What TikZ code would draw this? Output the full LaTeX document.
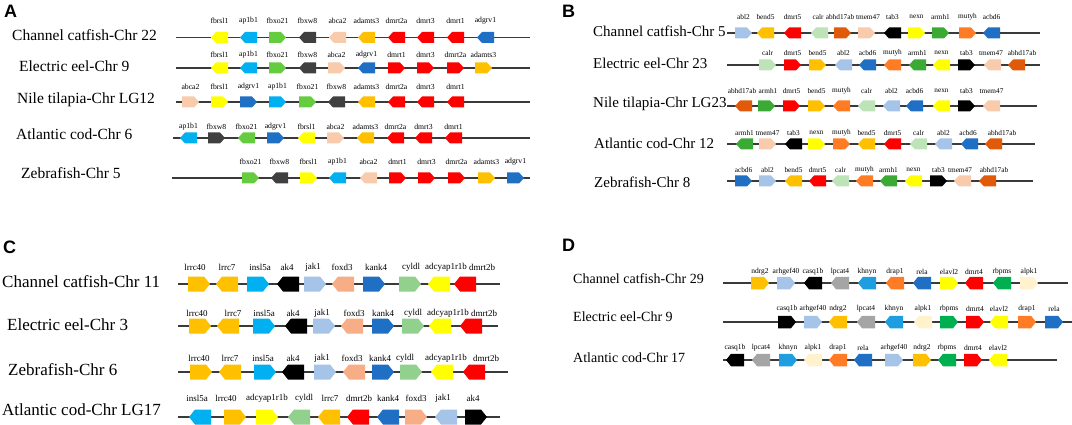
\documentclass[tikz,border=0pt]{standalone}
\usepackage{fontspec}
\setmainfont{Liberation Serif}
\newfontfamily\lsans{Liberation Sans}
\definecolor{cYel}{HTML}{FFFF00}
\definecolor{cCyan}{HTML}{00B0F0}
\definecolor{cLGrn}{HTML}{66CC3F}
\definecolor{cDGray}{HTML}{404040}
\definecolor{cPeach}{HTML}{F8CBAD}
\definecolor{cGold}{HTML}{FFC000}
\definecolor{cRed}{HTML}{FF0000}
\definecolor{cBlue}{HTML}{1F6FC4}
\definecolor{cLBlue}{HTML}{A6C4E8}
\definecolor{cMint}{HTML}{BEE3B8}
\definecolor{cCyl}{HTML}{92D08E}
\definecolor{cDOr}{HTML}{E05A0A}
\definecolor{cGrn}{HTML}{3AAA35}
\definecolor{cOr}{HTML}{FF7B24}
\definecolor{cBlk}{HTML}{000000}
\definecolor{cSal}{HTML}{F7AD85}
\definecolor{cGray}{HTML}{A5A5A5}
\definecolor{cKh}{HTML}{1E9EE0}
\definecolor{cRb}{HTML}{00B050}
\definecolor{cCream}{HTML}{FFF2CC}
\definecolor{cLine}{HTML}{3A3A3A}
\tikzset{
  chrline/.style={draw=cLine,line width=1.2pt},
  genelab/.style={inner sep=0pt,font=\gfs},
  rowlab/.style={anchor=west,inner sep=0pt},
  panlab/.style={anchor=west,inner sep=0pt,font=\lsans\bfseries\fontsize{18}{18}\selectfont},
}
\newcommand\gw{17}\newcommand\gh{11}\newcommand\gp{5}
\newcommand\gfs{\fontsize{7.7}{8}\selectfont}
\newcommand\ry{0}\newcommand\ly{0}
\newcommand\setrow[2]{\renewcommand\ry{#1}\renewcommand\ly{#2}}
\newcommand\gn[5][]{%
 \if#3R
  \fill[#4] (#2,\ry-\gh/2) -- (#2+\gw-\gp,\ry-\gh/2) -- (#2+\gw,\ry) -- (#2+\gw-\gp,\ry+\gh/2) -- (#2,\ry+\gh/2) -- cycle;
 \else
  \fill[#4] (#2+\gw,\ry-\gh/2) -- (#2+\gp,\ry-\gh/2) -- (#2,\ry) -- (#2+\gp,\ry+\gh/2) -- (#2+\gw,\ry+\gh/2) -- cycle;
 \fi
 \ifx\relax#1\relax
  \node[genelab] at (#2+\gw/2,\ly) {#5};
 \else
  \node[genelab] at (#1,\ly) {#5};
 \fi
}
\newcommand\chr[2]{\draw[chrline] (#1,\ry) -- (#2,\ry);}
\begin{document}
\begin{tikzpicture}[x=1pt,y=-1pt]
\fill[white] (0,0) rectangle (1072,425);
\useasboundingbox (0,0) rectangle (1072,425);
% ---------------- Panel A ----------------
\node[panlab] (pA) at (4,11) {A};
\begin{scope}[font=\fontsize{15.5}{15.5}\selectfont]
\node[rowlab] (a1) at (12,35) {Channel catfish-Chr 22};
\node[rowlab] (a2) at (19,66) {Electric eel-Chr 9};
\node[rowlab] (a3) at (17,100) {Nile tilapia-Chr LG12};
\node[rowlab] (a4) at (16,134) {Atlantic cod-Chr 6};
\node[rowlab] (a5) at (21,173) {Zebrafish-Chr 5};
\end{scope}
\setrow{37.5}{21}\chr{176}{530}
\gn{211}{L}{cYel}{fbrsl1}\gn{240}{L}{cCyan}{ap1b1}\gn{269}{R}{cLGrn}{fbxo21}\gn{299}{L}{cDGray}{fbxw8}
\gn{329}{L}{cPeach}{abca2}\gn{358}{L}{cGold}{adamts3}\gn{388}{L}{cRed}{dmrt2a}\gn{417}{L}{cRed}{dmrt3}
\gn{447}{L}{cRed}{dmrt1}\gn{477}{L}{cBlue}{adgrv1}
\setrow{68}{55}\chr{176}{530}
\gn{211}{L}{cYel}{fbrsl1}\gn{240}{L}{cCyan}{ap1b1}\gn{269}{R}{cLGrn}{fbxo21}\gn{299}{L}{cDGray}{fbxw8}
\gn{328}{R}{cPeach}{abca2}\gn{358}{L}{cBlue}{adgrv1}\gn{388}{R}{cRed}{dmrt1}\gn{417}{R}{cRed}{dmrt3}
\gn{447}{R}{cRed}{dmrt2a}\gn{475}{R}{cGold}{adamts3}
\setrow{102}{87}\chr{176}{530}
\gn{182}{R}{cPeach}{abca2}\gn{211}{R}{cYel}{fbrsl1}\gn{240}{R}{cBlue}{adgrv1}\gn{269}{R}{cCyan}{ap1b1}
\gn{299}{R}{cLGrn}{fbxo21}\gn{328}{L}{cDGray}{fbxw8}\gn{358}{L}{cGold}{adamts3}\gn{388}{L}{cRed}{dmrt2a}
\gn{417}{L}{cRed}{dmrt3}\gn{447}{L}{cRed}{dmrt1}
\setrow{138}{127}\chr{173}{530}
\gn{180}{L}{cCyan}{ap1b1}\gn{208}{R}{cDGray}{fbxw8}\gn{238}{L}{cLGrn}{fbxo21}\gn{267}{R}{cBlue}{adgrv1}
\gn{298}{L}{cYel}{fbrsl1}\gn{327}{R}{cPeach}{abca2}\gn{357}{L}{cGold}{adamts3}\gn{387}{L}{cRed}{dmrt2a}
\gn{415}{L}{cRed}{dmrt3}\gn{445}{L}{cRed}{dmrt1}
\setrow{178}{162}\chr{172}{530}
\gn{242}{R}{cLGrn}{fbxo21}\gn{271}{L}{cDGray}{fbxw8}\gn{300}{R}{cYel}{fbrsl1}\gn{329}{L}{cCyan}{ap1b1}
\gn{360}{L}{cPeach}{abca2}\gn{389}{R}{cRed}{dmrt1}\gn{418}{R}{cRed}{dmrt3}\gn{448}{R}{cRed}{dmrt2a}
\gn{478}{R}{cGold}{adamts3}\gn{507}{R}{cBlue}{adgrv1}
% ---------------- Panel B ----------------
\node[panlab] (pB) at (562,11) {B};
\renewcommand\gfs{\fontsize{7.3}{8}\selectfont}
\begin{scope}[font=\fontsize{15}{15}\selectfont]
\node[rowlab] (b1) at (593,31) {Channel catfish-Chr 5};
\node[rowlab] (b2) at (593,63) {Electric eel-Chr 23};
\node[rowlab] (b3) at (593,104) {Nile tilapia-Chr LG23};
\node[rowlab] (b4) at (594,143) {Atlantic cod-Chr 12};
\node[rowlab] (b5) at (594,182) {Zebrafish-Chr 8};
\end{scope}
\setrow{33}{17}\chr{727}{1040}
\gn{735}{R}{cLBlue}{abl2}\gn{757}{L}{cGold}{bend5}\gn{784}{L}{cRed}{dmrt5}\gn[818]{811}{L}{cMint}{calr}
\gn[840]{834}{R}{cDOr}{abhd17ab}\gn[868]{858}{R}{cPeach}{tmem47}\gn{884}{L}{cBlk}{tab3}\gn{908}{R}{cYel}{nexn}
\gn{932}{R}{cGrn}{armh1}\gn{959}{R}{cOr}{mutyh}\gn{983}{L}{cBlue}{acbd6}
\setrow{65}{53}\chr{727}{1040}
\gn{759}{R}{cMint}{calr}\gn{784}{R}{cRed}{dmrt5}\gn{809}{R}{cGold}{bend5}\gn{835}{L}{cLBlue}{abl2}
\gn{859}{L}{cBlue}{acbd6}\gn{884}{L}{cOr}{mutyh}\gn{909}{L}{cGrn}{armh1}\gn{933}{L}{cYel}{nexn}
\gn{958}{R}{cBlk}{tab3}\gn[991]{984}{L}{cPeach}{tmem47}\gn[1022]{1008}{L}{cDOr}{abhd17ab}
\setrow{106}{91}\chr{727}{1037}
\gn[742]{735}{L}{cDOr}{abhd17ab}\gn[768]{758}{R}{cGrn}{armh1}\gn{783}{R}{cRed}{dmrt5}\gn{808}{R}{cGold}{bend5}
\gn{833}{L}{cOr}{mutyh}\gn{858}{L}{cMint}{calr}\gn{883}{L}{cLBlue}{abl2}\gn{906}{L}{cBlue}{acbd6}
\gn{933}{L}{cYel}{nexn}\gn{958}{R}{cBlk}{tab3}\gn{983}{L}{cPeach}{tmem47}
\setrow{144}{133}\chr{727}{1035}
\gn{736}{L}{cGrn}{armh1}\gn{759}{R}{cPeach}{tmem47}\gn{785}{L}{cBlk}{tab3}\gn{808}{R}{cYel}{nexn}
\gn{833}{R}{cOr}{mutyh}\gn{858}{L}{cGold}{bend5}\gn{884}{L}{cRed}{dmrt5}\gn{910}{L}{cMint}{calr}
\gn{935}{L}{cLBlue}{abl2}\gn[968]{961}{L}{cBlue}{acbd6}\gn[1002]{985}{L}{cDOr}{abhd17ab}
\setrow{181}{170}\chr{727}{1033}
\gn{735}{R}{cBlue}{acbd6}\gn{759}{R}{cLBlue}{abl2}\gn{785}{L}{cGold}{bend5}\gn{809}{L}{cRed}{dmrt5}
\gn{832}{L}{cMint}{calr}\gn{856}{L}{cOr}{mutyh}\gn{880}{L}{cGrn}{armh1}\gn{905}{L}{cYel}{nexn}
\gn{930}{R}{cBlk}{tab3}\gn[960]{954}{L}{cPeach}{tmem47}\gn[994]{979}{L}{cDOr}{abhd17ab}
% ---------------- Panel C ----------------
\node[panlab] (pC) at (3,247) {C};
\begin{scope}[font=\fontsize{17}{17}\selectfont]
\node[rowlab] (c1) at (2,282) {Channel catfish-Chr 11};
\node[rowlab] (c2) at (7,325) {Electric eel-Chr 3};
\node[rowlab] (c3) at (8,370) {Zebrafish-Chr 6};
\node[rowlab] (c4) at (2,410) {Atlantic cod-Chr LG17};
\end{scope}
\renewcommand\gw{22}\renewcommand\gh{15}\renewcommand\gp{6}
\renewcommand\gfs{\fontsize{9}{9}\selectfont}
\setrow{284}{267}\chr{178}{500}
\gn[195]{188}{R}{cGold}{lrrc40}\gn[227]{216}{L}{cGold}{lrrc7}\gn[260]{247}{R}{cCyan}{insl5a}\gn[287]{277}{L}{cBlk}{ak4}
\gn[313]{304}{R}{cLBlue}{jak1}\gn[342]{332}{L}{cSal}{foxd3}\gn[376]{363}{R}{cBlue}{kank4}\gn[411]{399}{R}{cCyl}{cyldl}
\gn[446]{428}{L}{cYel}{adcyap1r1b}\gn[482]{454}{L}{cRed}{dmrt2b}
\setrow{326}{313}\chr{178}{498}
\gn[197]{189}{R}{cGold}{lrrc40}\gn[233]{217}{L}{cGold}{lrrc7}\gn[264]{253}{R}{cCyan}{insl5a}\gn[293]{285}{L}{cBlk}{ak4}
\gn[322]{313}{R}{cLBlue}{jak1}\gn[354]{341}{L}{cSal}{foxd3}\gn[383]{372}{R}{cBlue}{kank4}\gn[413]{402}{R}{cCyl}{cyldl}
\gn[448]{429}{L}{cYel}{adcyap1r1b}\gn[484]{460}{L}{cRed}{dmrt2b}
\setrow{372}{358}\chr{178}{508}
\gn[199]{190}{R}{cGold}{lrrc40}\gn[230]{219}{L}{cGold}{lrrc7}\gn[263]{254}{R}{cCyan}{insl5a}\gn[293]{282}{L}{cBlk}{ak4}
\gn[322]{314}{R}{cLBlue}{jak1}\gn[352]{343}{L}{cSal}{foxd3}\gn[380]{372}{R}{cBlue}{kank4}\gn[405]{400}{R}{cCyl}{cyldl}
\gn[446]{431}{L}{cYel}{adcyap1r1b}\gn[486]{463}{L}{cRed}{dmrt2b}
\setrow{417}{398}\chr{178}{500}
\gn[197]{189}{L}{cCyan}{insl5a}\gn[226]{224}{R}{cGold}{lrrc40}\gn[267]{256}{R}{cYel}{adcyap1r1b}\gn[304]{288}{L}{cCyl}{cyldl}
\gn[330]{318}{L}{cGold}{lrrc7}\gn[359]{347}{L}{cRed}{dmrt2b}\gn[388]{377}{L}{cBlue}{kank4}\gn[416]{405}{R}{cSal}{foxd3}
\gn[443]{435}{L}{cLBlue}{jak1}\gn[473]{465}{R}{cBlk}{ak4}
% ---------------- Panel D ----------------
\node[panlab] (pD) at (562,245) {D};
\begin{scope}[font=\fontsize{14}{14}\selectfont]
\node[rowlab] (d1) at (573,279) {Channel catfish-Chr 29};
\node[rowlab] (d2) at (573,317) {Electric eel-Chr 9};
\node[rowlab] (d3) at (573,358) {Atlantic cod-Chr 17};
\end{scope}
\renewcommand\gw{18}\renewcommand\gh{12.5}\renewcommand\gp{5}
\renewcommand\gfs{\fontsize{7.5}{8}\selectfont}
\setrow{283}{272}\chr{723}{1068}
\gn{751}{R}{cGold}{ndrg2}\gn{777}{R}{cLBlue}{arhgef40}\gn{804}{L}{cBlk}{casq1b}\gn{831}{L}{cGray}{lpcat4}
\gn{858}{L}{cKh}{khnyn}\gn{886}{L}{cOr}{drap1}\gn{913}{L}{cBlue}{rela}\gn{940}{R}{cYel}{elavl2}
\gn{965}{L}{cRed}{dmrt4}\gn{993}{L}{cRb}{rbpms}\gn{1020}{R}{cCream}{alpk1}
\setrow{322}{309}\chr{723}{1072}
\gn{778}{R}{cBlk}{casq1b}\gn{804}{R}{cLBlue}{arhgef40}\gn{829}{L}{cGold}{ndrg2}\gn{857}{L}{cGray}{lpcat4}
\gn{885}{L}{cKh}{khnyn}\gn{914}{L}{cCream}{alpk1}\gn{940}{R}{cRb}{rbpms}\gn{966}{R}{cRed}{dmrt4}
\gn{990}{L}{cYel}{elavl2}\gn{1018}{R}{cOr}{drap1}\gn{1045}{R}{cBlue}{rela}
\setrow{360}{348}\chr{723}{1057}
\gn{726}{L}{cBlk}{casq1b}\gn{752}{L}{cGray}{lpcat4}\gn{779}{R}{cKh}{khnyn}\gn{804}{L}{cCream}{alpk1}
\gn{829}{L}{cOr}{drap1}\gn{854}{L}{cBlue}{rela}\gn{885}{R}{cLBlue}{arhgef40}\gn{913}{R}{cGold}{ndrg2}
\gn{938}{L}{cRb}{rbpms}\gn{964}{R}{cRed}{dmrt4}\gn{989}{L}{cYel}{elavl2}
\end{tikzpicture}
\end{document}
